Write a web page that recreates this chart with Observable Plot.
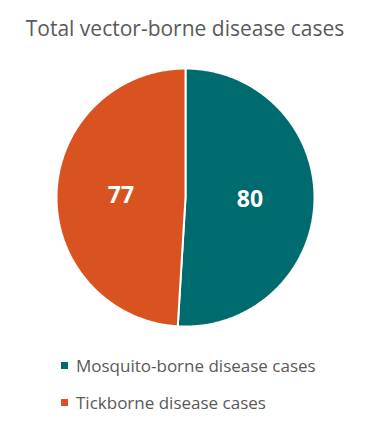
<!DOCTYPE html>
<html><head><meta charset="utf-8">
<script src="https://cdn.jsdelivr.net/npm/d3@7"></script>
<script src="https://cdn.jsdelivr.net/npm/@observablehq/plot@0.6"></script>
<style>
body{margin:0;background:#fff;font-family:"Open Sans","Noto Sans",sans-serif;}
#title{height:56px;box-sizing:border-box;padding-top:14px;text-align:center;font-size:21px;color:#595959;white-space:nowrap;}
#legend{padding-left:61px;margin-top:6px;}
.item{display:flex;align-items:center;height:37px;font-size:17px;color:#595959;white-space:nowrap;}
.sw{width:7px;height:7px;margin-right:8px;}
</style></head>
<body>
<div id="title">Total vector-borne disease cases</div>
<div id="chart"></div>
<div id="legend"></div>
<script>
const categories = ["Mosquito-borne disease cases", "Tickborne disease cases"];
const values = [80, 77];
const labels = ["80", "77"];
const colors = ["#006B6E", "#D8531F"];

const pie = d3.pie().sort(null).value(d => d.value);
const arcs = pie(categories.map((c, i) => ({name: c, value: values[i], label: labels[i]})));

const pts = [];
const labelPts = [];
for (const a of arcs) {
  const n = Math.max(2, Math.ceil((a.endAngle - a.startAngle) / 0.01));
  pts.push({name: a.data.name, x: 0, y: 0});
  for (let k = 0; k <= n; k++) {
    const t = a.startAngle + (a.endAngle - a.startAngle) * k / n;
    pts.push({name: a.data.name, x: Math.sin(t), y: Math.cos(t)});
  }
  pts.push({name: a.data.name, x: 0, y: 0});
  const m = (a.startAngle + a.endAngle) / 2;
  labelPts.push({name: a.data.name, label: a.data.label, x: 0.5 * Math.sin(m), y: 0.5 * Math.cos(m)});
}

const plot = Plot.plot({
  width: 370, height: 285,
  margin: 0,
  x: {domain: [-1, 1], range: [56, 314], axis: null},
  y: {domain: [-1, 1], range: [270, 12], axis: null},
  color: {domain: categories, range: colors},
  marks: [
    Plot.line(pts, {x: "x", y: "y", z: "name", fill: "name", stroke: "white", strokeWidth: 2, strokeLinejoin: "miter"}),
    Plot.text(labelPts, {x: "x", y: "y", text: "label", fill: "white", fontSize: 23, fontWeight: "bold"})
  ]
});
document.getElementById("chart").appendChild(plot);

const lg = document.getElementById("legend");
categories.forEach((c, i) => {
  const d = document.createElement("div"); d.className = "item";
  const s = document.createElement("span"); s.className = "sw"; s.style.background = colors[i];
  d.appendChild(s); d.appendChild(document.createTextNode(c)); lg.appendChild(d);
});
</script>
</body></html>
